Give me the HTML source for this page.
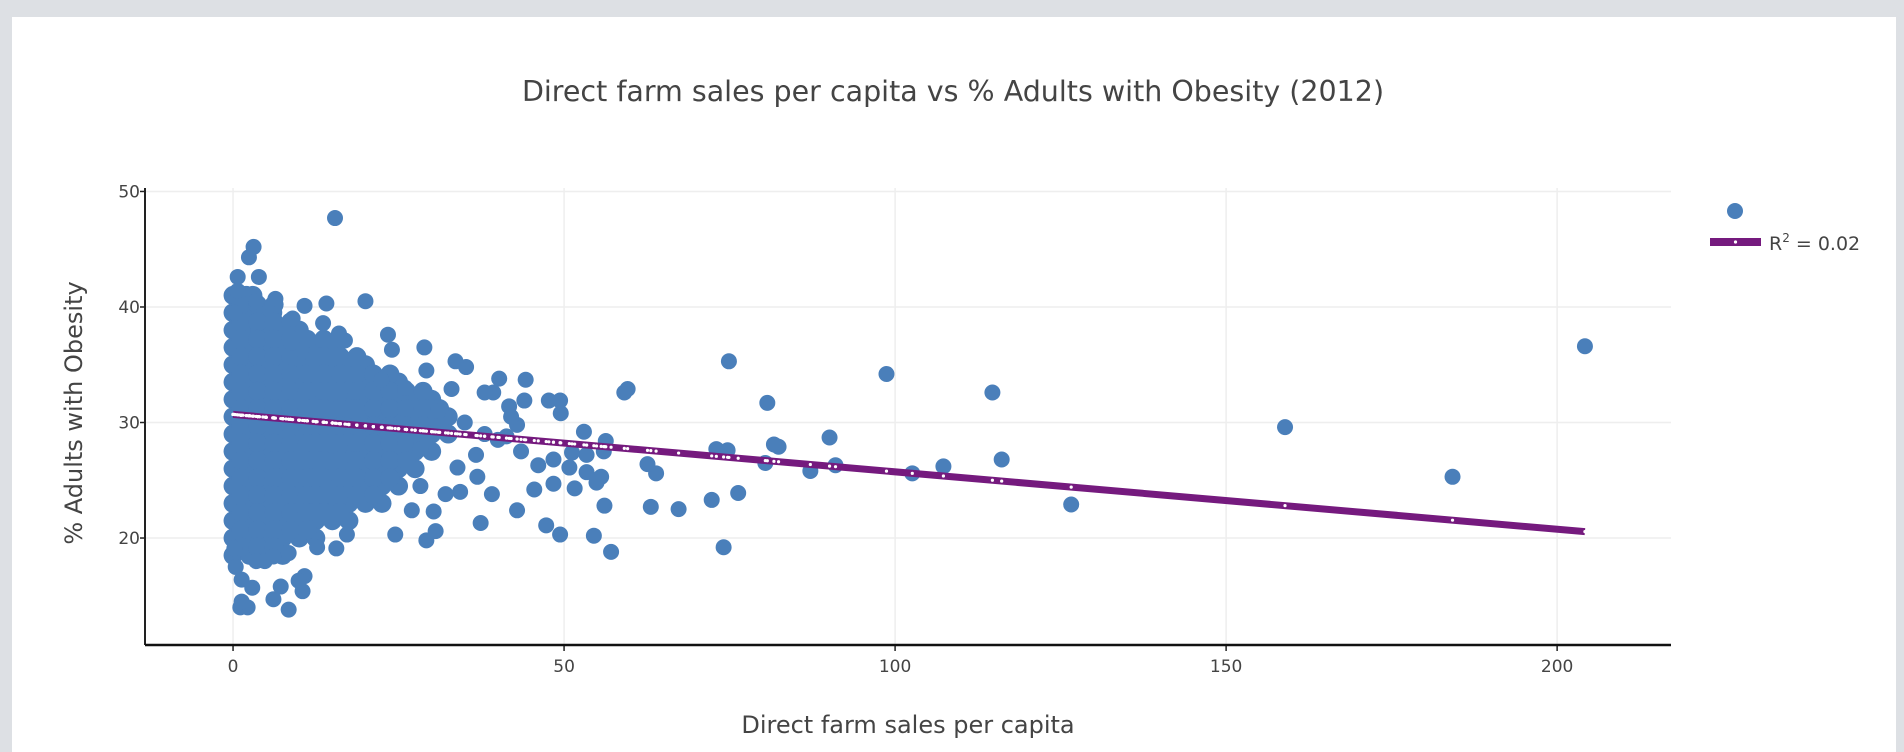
<!DOCTYPE html>
<html><head><meta charset="utf-8"><style>
body{margin:0;background:#dde0e4;width:1904px;height:752px;overflow:hidden;font-family:"DejaVu Sans","Liberation Sans",sans-serif}
#card{position:absolute;left:12px;top:17px;width:1884px;height:735px;background:#fff}
svg{position:absolute;left:0;top:0}
</style></head><body>
<div id="card"></div>
<svg id="chart" width="1904" height="752">
<text x="953" y="101" text-anchor="middle" font-size="28.5" fill="#444">Direct farm sales per capita vs % Adults with Obesity (2012)</text>
<text x="908" y="733" text-anchor="middle" font-size="24" fill="#444">Direct farm sales per capita</text>
<text transform="translate(82,413) rotate(-90)" text-anchor="middle" font-size="24" fill="#444">% Adults with Obesity</text>
<g id="grid"></g><g id="marks"></g><g id="axes"></g>
<g>
<circle cx="1735" cy="211" r="8" fill="#4a7fba"/>
<rect x="1710" y="238" width="51" height="8" fill="#751a7e"/>
<circle cx="1735.5" cy="242" r="1.6" fill="#fff"/>
<text x="1769" y="250" font-size="19" fill="#444">R<tspan dy="-8" font-size="12">2</tspan><tspan dy="8"> = 0.02</tspan></text>
</g>
</svg>
<script>
const xTicks=[0,50,100,150,200];
const yTicks=[20,30,40,50];
const fitIntercept=30.7;
const fitSlope=-0.0497;
const outX=[204.2,184.2,158.9,126.6,116.1,114.7,107.3,102.6,98.7,91,90.1,87.2,82.4,81.7,80.7,80.4,76.3,74.9,74.7,74.1,73,72.3,67.3,63.9,63.1,62.6,59.6,59.1,57.1,56.1,56.3,55.6,54.9,56,54.5,53.4,53,53.4,51.6,50.8,51.2,49.5,49.4,49.4,48.4,47.7,48.4,47.3,46.1,45.5,44.2,44,42.9,43.5,42.9,41.7,41.3,40.2,39.3,38,39.1,37.4,36.7,36.9,35.2,33.6,33,34.3,33.9,32.1,30.6,29.2,30.3,28.9,29.2,28.3,28.3,27,24.5,23.4,20,15.4,14.1,10.8,13.6,8.8,8.4,1.1,2.2,1.3,6.1,7.2,2.9,10.5,10.8,9.9,1.3,0.4,3.5,4.8,8.4,6.1,0.2,12.7,15.6,17.2,3.1,2.4,0.7,3.9,0.7,6.4,3.5,9,0.2,12.1,16.9,16,22.4,24,26,31,35,38,40,42];
const outY=[36.6,25.3,29.6,22.9,26.8,32.6,26.2,25.6,34.2,26.3,28.7,25.8,27.9,28.1,31.7,26.5,23.9,35.3,27.6,19.2,27.7,23.3,22.5,25.6,22.7,26.4,32.9,32.6,18.8,22.8,28.4,25.3,24.8,27.5,20.2,25.7,29.2,27.2,24.3,26.1,27.4,30.8,31.9,20.3,26.8,31.9,24.7,21.1,26.3,24.2,33.7,31.9,22.4,27.5,29.8,31.4,28.8,33.8,32.6,32.6,23.8,21.3,27.2,25.3,34.8,35.3,32.9,24,26.1,23.8,20.6,19.8,22.3,36.5,34.5,27.7,24.5,22.4,20.3,37.6,40.5,47.7,40.3,40.1,38.6,36.9,13.8,14,14,14.5,14.7,15.8,15.7,15.4,16.7,16.3,16.4,17.5,18,18,18.7,18.4,19.1,19.2,19.1,20.3,45.2,44.3,42.6,42.6,41.4,40.7,40.5,39,39.5,35.5,37.1,37.7,33.7,36.3,33,31,30,29,28.5,30.5];
const cloudX=[0,1,2,3, 0,1.5,3,4.5,6, 0,2,4,6,8,10, 0,2.5,5,7.5,10,12.5,15, 0,2.5,5,7.5,10,12.5,15,17.5,20,
0,2.5,5,7.5,10,12.5,15,17.5,20,22.5,25, 0,2.5,5,7.5,10,12.5,15,17.5,20,22.5,25,27.5,30,
0,2.5,5,7.5,10,12.5,15,17.5,20,22.5,25,27.5,30,32.5, 0,2.5,5,7.5,10,12.5,15,17.5,20,22.5,25,27.5,30,32.5,
0,2.5,5,7.5,10,12.5,15,17.5,20,22.5,25,27.5,30, 0,2.5,5,7.5,10,12.5,15,17.5,20,22.5,25,27.5,
0,2.5,5,7.5,10,12.5,15,17.5,20,22.5,25, 0,2.5,5,7.5,10,12.5,15,17.5,20,22.5,
0,2.5,5,7.5,10,12.5,15,17.5, 0,2.5,5,7.5,10,12.5, 0,2.5,5,7.5];
const cloudY=[41,41,41,41, 39.5,39.5,39.5,39.5,39.5, 38,38,38,38,38,38, 36.5,36.5,36.5,36.5,36.5,36.5,36.5, 35,35,35,35,35,35,35,35,35,
33.5,33.5,33.5,33.5,33.5,33.5,33.5,33.5,33.5,33.5,33.5, 32,32,32,32,32,32,32,32,32,32,32,32,32,
30.5,30.5,30.5,30.5,30.5,30.5,30.5,30.5,30.5,30.5,30.5,30.5,30.5,30.5, 29,29,29,29,29,29,29,29,29,29,29,29,29,29,
27.5,27.5,27.5,27.5,27.5,27.5,27.5,27.5,27.5,27.5,27.5,27.5,27.5, 26,26,26,26,26,26,26,26,26,26,26,26,
24.5,24.5,24.5,24.5,24.5,24.5,24.5,24.5,24.5,24.5,24.5, 23,23,23,23,23,23,23,23,23,23,
21.5,21.5,21.5,21.5,21.5,21.5,21.5,21.5, 20,20,20,20,20,20, 18.5,18.5,18.5,18.5];
const fillX=[1.2,3.7,6.2, 1.2,3.7,6.2,8.7, 1.2,3.7,6.2,8.7,11.2,13.7, 1.2,3.7,6.2,8.7,11.2,13.7,16.2,18.7,
1.2,3.7,6.2,8.7,11.2,13.7,16.2,18.7,21.2,23.7, 1.2,3.7,6.2,8.7,11.2,13.7,16.2,18.7,21.2,23.7,26.2,28.7,
1.2,3.7,6.2,8.7,11.2,13.7,16.2,18.7,21.2,23.7,26.2,28.7,31.2, 1.2,3.7,6.2,8.7,11.2,13.7,16.2,18.7,21.2,23.7,26.2,28.7,31.2,
1.2,3.7,6.2,8.7,11.2,13.7,16.2,18.7,21.2,23.7,26.2,28.7, 1.2,3.7,6.2,8.7,11.2,13.7,16.2,18.7,21.2,23.7,26.2,
1.2,3.7,6.2,8.7,11.2,13.7,16.2,18.7,21.2,23.7, 1.2,3.7,6.2,8.7,11.2,13.7,16.2,18.7,21.2,
1.2,3.7,6.2,8.7,11.2,13.7,16.2, 1.2,3.7,6.2,8.7,11.2, 1.2,3.7,6.2];
const fillY=[40.2,40.2,40.2, 38.7,38.7,38.7,38.7, 37.2,37.2,37.2,37.2,37.2,37.2, 35.7,35.7,35.7,35.7,35.7,35.7,35.7,35.7,
34.2,34.2,34.2,34.2,34.2,34.2,34.2,34.2,34.2,34.2, 32.7,32.7,32.7,32.7,32.7,32.7,32.7,32.7,32.7,32.7,32.7,32.7,
31.2,31.2,31.2,31.2,31.2,31.2,31.2,31.2,31.2,31.2,31.2,31.2,31.2, 29.7,29.7,29.7,29.7,29.7,29.7,29.7,29.7,29.7,29.7,29.7,29.7,29.7,
28.2,28.2,28.2,28.2,28.2,28.2,28.2,28.2,28.2,28.2,28.2,28.2, 26.7,26.7,26.7,26.7,26.7,26.7,26.7,26.7,26.7,26.7,26.7,
25.2,25.2,25.2,25.2,25.2,25.2,25.2,25.2,25.2,25.2, 23.7,23.7,23.7,23.7,23.7,23.7,23.7,23.7,23.7,
22.2,22.2,22.2,22.2,22.2,22.2,22.2, 20.7,20.7,20.7,20.7,20.7, 19.2,19.2,19.2];

const X0=145,X1=1671,Y0=188,Y1=645,xmin=-13.3,xmax=217.2,ymin=10.74,ymax=50.3;
const sx=v=>X0+(v-xmin)/(xmax-xmin)*(X1-X0);
const sy=v=>Y1-(v-ymin)/(ymax-ymin)*(Y1-Y0);
const NS='http://www.w3.org/2000/svg';
function mk(tag,attrs,parent){const e=document.createElementNS(NS,tag);for(const k in attrs)e.setAttribute(k,attrs[k]);parent.appendChild(e);return e;}
const grid=document.getElementById('grid'),marks=document.getElementById('marks'),axes=document.getElementById('axes');
xTicks.forEach(t=>{
  const g=mk('line',{x1:sx(t),x2:sx(t),y1:Y0,y2:Y1,stroke:'#eee','stroke-width':1.5},grid);
  
  
  const tk=mk('line',{x1:sx(t),x2:sx(t),y1:Y1,y2:Y1+6,stroke:'#222','stroke-width':1.5},axes);
  
  
  const lb=mk('text',{x:sx(t),y:672,'text-anchor':'middle','font-size':17,fill:'#444'},axes);
  lb.textContent=t;
  
  
});
yTicks.forEach(t=>{
  const g=mk('line',{x1:X0,x2:X1,y1:sy(t),y2:sy(t),stroke:'#eee','stroke-width':1.5},grid);
  
  
  const tk=mk('line',{x1:X0-5,x2:X0,y1:sy(t),y2:sy(t),stroke:'#222','stroke-width':1.5},axes);
  
  
  const lb=mk('text',{x:X0-5,y:sy(t)+6,'text-anchor':'end','font-size':17,fill:'#444'},axes);
  lb.textContent=t;
  
  
});
const ya=mk('line',{x1:X0,x2:X0,y1:Y0,y2:Y1,stroke:'#222','stroke-width':2},axes);


const xa=mk('line',{x1:X0,x2:X1,y1:Y1,y2:Y1,stroke:'#111','stroke-width':2.5},axes);


const denseX=cloudX.concat(fillX),denseY=cloudY.concat(fillY);
denseX.forEach((x,i)=>{
  const c=mk('circle',{cx:sx(x),cy:sy(denseY[i]),r:9.5,fill:'#4a7fba'},marks);
  
  
});
outX.forEach((x,i)=>{
  const c=mk('circle',{cx:sx(x),cy:sy(outY[i]),r:8,fill:'#4a7fba'},marks);
  
  
});
const allX=denseX.concat(outX);
const xs=allX.slice().sort((a,b)=>a-b);
const xLo=xs[0],xHi=xs[xs.length-1];
const fit=mk('line',{x1:sx(xLo),y1:sy(fitIntercept+fitSlope*xLo),x2:sx(xHi),y2:sy(fitIntercept+fitSlope*xHi),stroke:'#751a7e','stroke-width':7},marks);


xs.forEach(x=>{
  const d=mk('circle',{cx:sx(x),cy:sy(fitIntercept+fitSlope*x),r:1.6,fill:'#fff'},marks);
  
  
});
</script>
</body></html>
